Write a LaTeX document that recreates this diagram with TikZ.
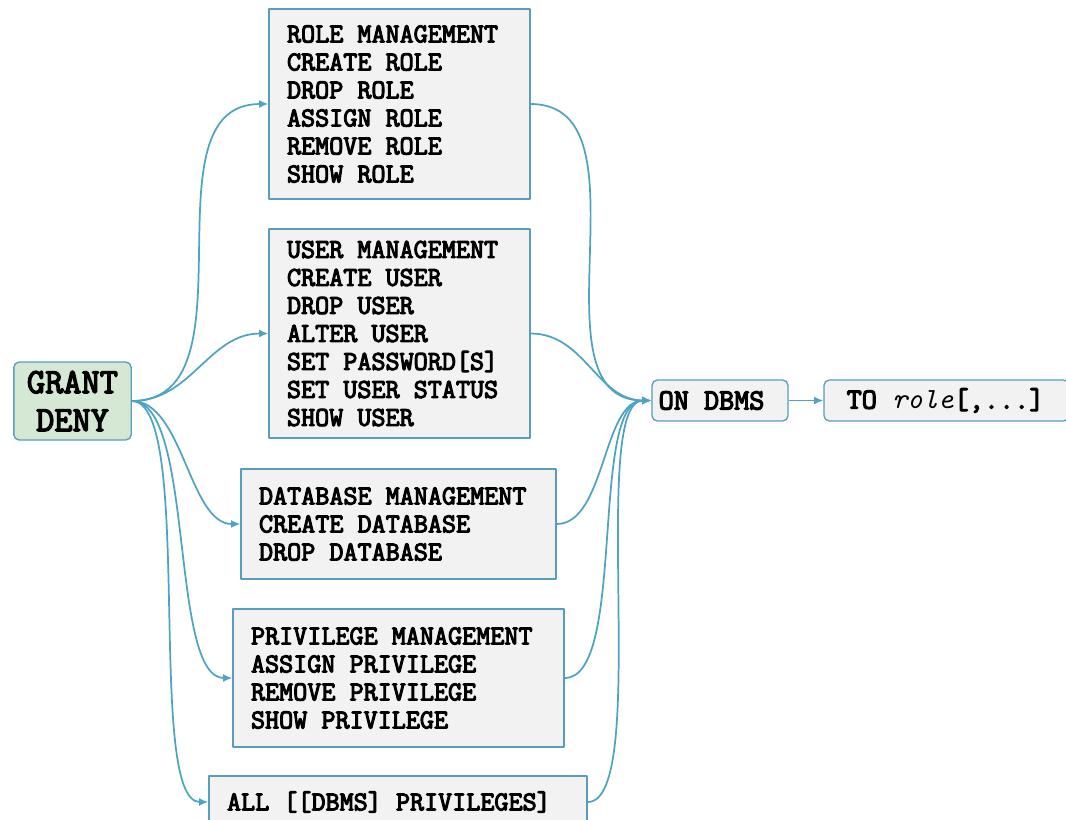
\documentclass[tikz,border=0pt]{standalone}
\usepackage{fontspec}
\setmonofont{Latin Modern Mono}[AutoFakeBold=4]
\usetikzlibrary{arrows.meta}
\definecolor{linkblue}{RGB}{77,163,196}
\definecolor{boxline}{RGB}{88,158,188}
\definecolor{boxfill}{RGB}{242,242,242}
\definecolor{cmdfill}{RGB}{213,232,212}
\tikzset{>={Latex[length=7pt, width=6pt]}}
\tikzset{
	box/.style={draw=boxline, line width=1pt, fill=boxfill, inner xsep=13.5pt, inner ysep=0pt, align=left,
		execute at begin node={\spaceskip=0pt\xspaceskip=0pt},
		font=\ttfamily\bfseries\fontsize{20.5}{21}\selectfont},
	cmd/.style={draw=boxline, line width=1pt, fill=cmdfill, rounded corners=4pt, align=center,
		text width=80pt, minimum height=58.5pt, inner xsep=4pt,
		font=\ttfamily\bfseries\fontsize{26.5}{28.5}\selectfont},
	target/.style={box, rounded corners=4pt, minimum height=30.75pt,
		font=\ttfamily\bfseries\fontsize{22}{23}\selectfont},
	link/.style={->, draw=linkblue, line width=1.3pt}
}
\newcommand{\roleital}[1]{\textit{#1}}

\begin{document}
\begin{tikzpicture}[x=0.75pt, y=-0.75pt, line join=round]
	\useasboundingbox (0,0) rectangle (1066,819);
	
	% Command
	\node[cmd] (grant) at (72.5,401) {GRANT\\DENY};
	
	% Privilege groups
	\node[box, text width=168.75pt, minimum height=142.5pt] (role) at (399.5,104)
		{ROLE MANAGEMENT\\CREATE ROLE\\DROP ROLE\\ASSIGN ROLE\\REMOVE ROLE\\SHOW ROLE};
	\node[box, text width=168.75pt, minimum height=156.75pt] (user) at (399.5,333.5)
		{USER MANAGEMENT\\CREATE USER\\DROP USER\\ALTER USER\\SET PASSWORD[S]\\SET USER STATUS\\SHOW USER};
	\node[box, text width=209.25pt, minimum height=82.5pt] (db) at (398.5,524)
		{DATABASE MANAGEMENT\\CREATE DATABASE\\DROP DATABASE};
	\node[box, text width=221.25pt, minimum height=103.5pt] (priv) at (398.5,678)
		{PRIVILEGE MANAGEMENT\\ASSIGN PRIVILEGE\\REMOVE PRIVILEGE\\SHOW PRIVILEGE};
	\node[box, text width=256.5pt, minimum height=39pt] (all) at (398,802)
		{ALL [[DBMS] PRIVILEGES]};
	
	% Scope and grantee
	\node[target, inner xsep=5pt, text width=92pt] (on) at (720,400.5) {ON DBMS};
	\node[target, inner xsep=17pt, text width=149.75pt] (to) at (946.5,400.5) {TO \roleital{role}[,...]};
	
	% Connectors
	\foreach \grp/\lo in {role/1, user/1, db/0.8, priv/0.55, all/0.4}
	{
		\draw[link] (grant.east) to[out=0, in=180, looseness=\lo] (\grp.west);
		\draw[link] (\grp.east) to[out=0, in=180, looseness=\lo] (on.west);
	}
	\draw[link] (on) -- (to);
\end{tikzpicture}
\end{document}
